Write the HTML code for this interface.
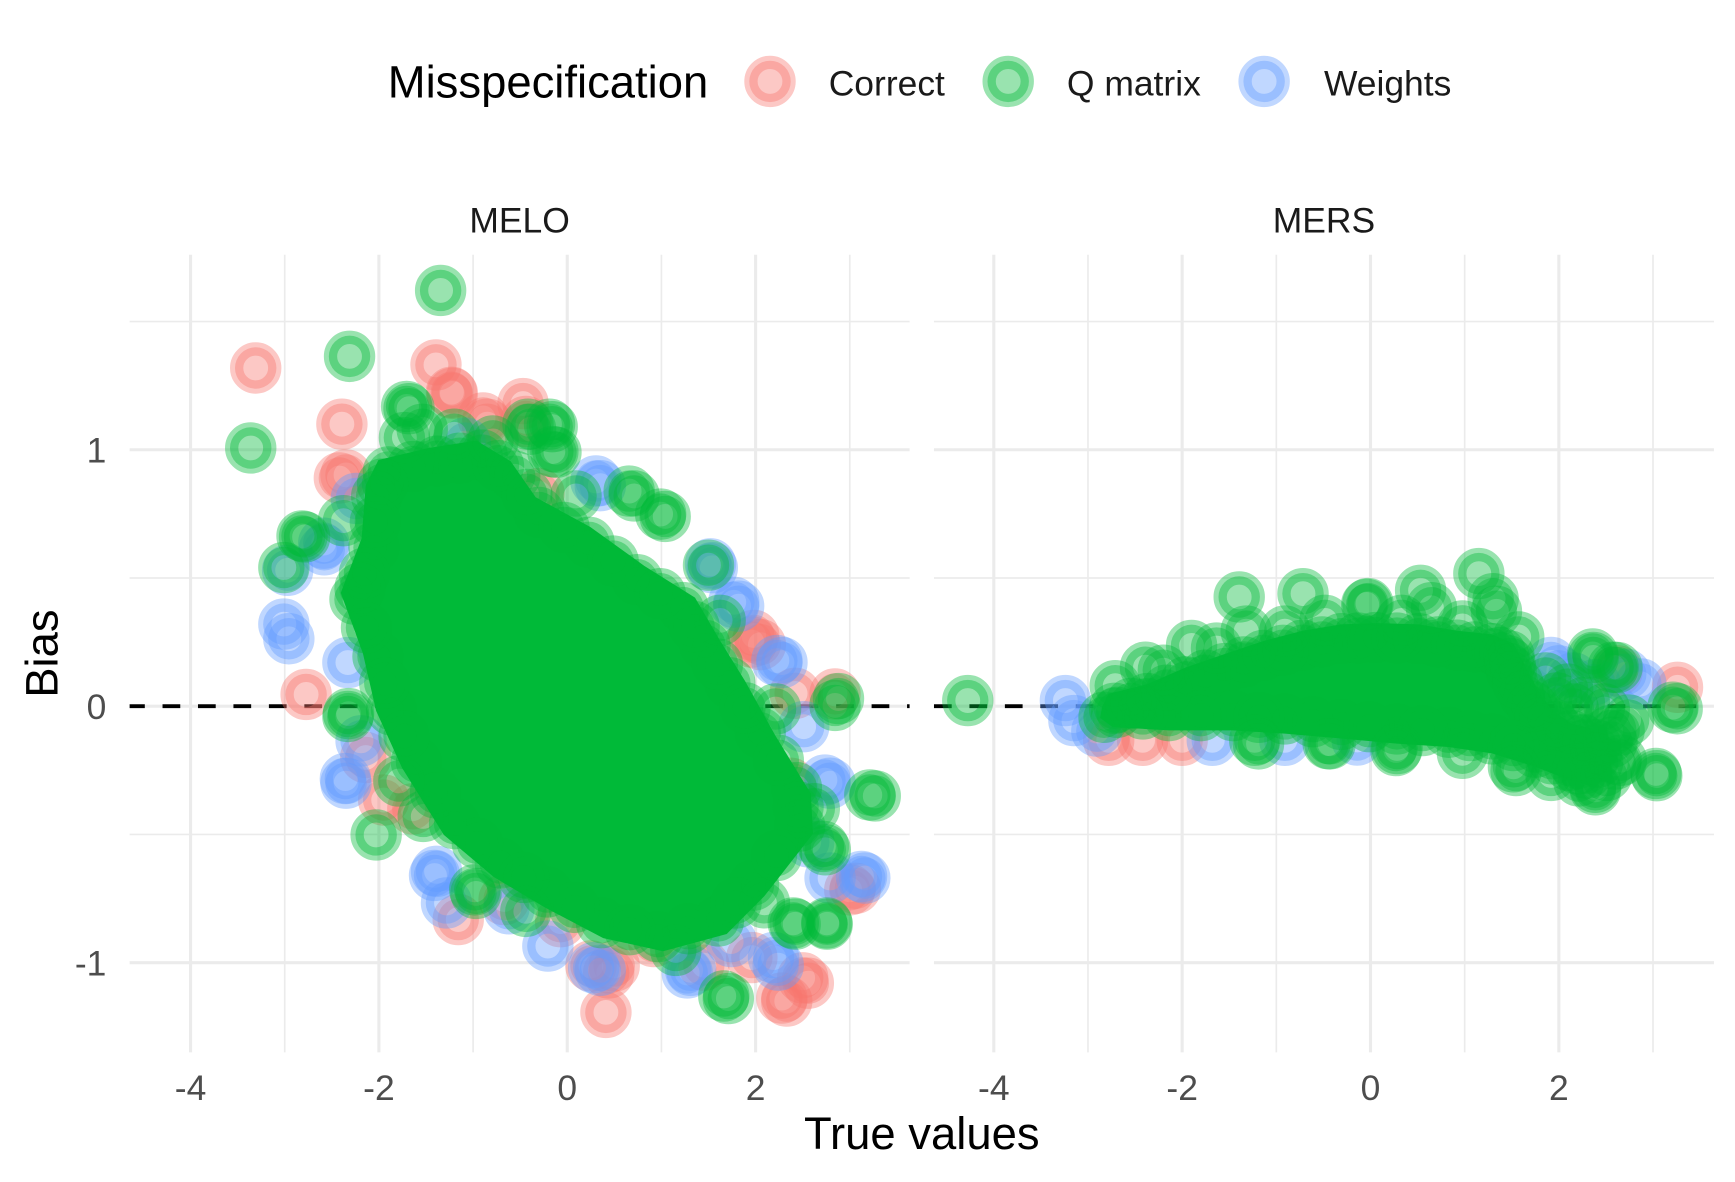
<!DOCTYPE html>
<html>
<head>
<meta charset="utf-8">
<style>
html,body{margin:0;padding:0;background:#ffffff;width:1735px;height:1182px;overflow:hidden;}
svg{display:block;}
text{font-family:"Liberation Sans",Arial,sans-serif;}
</style>
</head>
<body>
<svg xmlns="http://www.w3.org/2000/svg" width="1735" height="1182" viewBox="0 0 1566 1067" preserveAspectRatio="none">
<defs>
  <clipPath id="cl"><rect x="117" y="230" width="704" height="720"/></clipPath>
  <clipPath id="cr"><rect x="843" y="230" width="704" height="720"/></clipPath>
  <g id="pr"><circle r="18.7" fill="#F8766D" fill-opacity="0.4"/><circle r="17.2" fill="none" stroke="#F8766D" stroke-opacity="0.4" stroke-width="12"/></g>
  <g id="pg"><circle r="18.7" fill="#00BA38" fill-opacity="0.4"/><circle r="17.2" fill="none" stroke="#00BA38" stroke-opacity="0.4" stroke-width="12"/></g>
  <g id="pb"><circle r="18.7" fill="#619CFF" fill-opacity="0.4"/><circle r="17.2" fill="none" stroke="#619CFF" stroke-opacity="0.4" stroke-width="12"/></g>
</defs>
<rect x="0" y="0" width="1566" height="1067" fill="#ffffff"/>

<!-- Legend -->
<text x="350" y="88" font-size="41" fill="#000000">Misspecification</text>
<use href="#pr" x="695" y="73.5"/>
<text x="748" y="86" font-size="32" fill="#1A1A1A">Correct</text>
<use href="#pg" x="910" y="73.5"/>
<text x="963" y="86" font-size="32" fill="#1A1A1A">Q matrix</text>
<use href="#pb" x="1141" y="73.5"/>
<text x="1195" y="86" font-size="32" fill="#1A1A1A">Weights</text>

<!-- Strip labels -->
<text x="469" y="210" font-size="32" fill="#1A1A1A" text-anchor="middle">MELO</text>
<text x="1195" y="210" font-size="32" fill="#1A1A1A" text-anchor="middle">MERS</text>

<!-- Grid -->
<g stroke="#EBEBEB" fill="none">
  <g stroke-width="1.5">
    <line x1="117" x2="821" y1="290.25" y2="290.25"/>
    <line x1="117" x2="821" y1="521.75" y2="521.75"/>
    <line x1="117" x2="821" y1="753.25" y2="753.25"/>
    <line x1="257" x2="257" y1="230" y2="950"/>
    <line x1="427" x2="427" y1="230" y2="950"/>
    <line x1="597" x2="597" y1="230" y2="950"/>
    <line x1="767" x2="767" y1="230" y2="950"/>
    <line x1="843" x2="1547" y1="290.25" y2="290.25"/>
    <line x1="843" x2="1547" y1="521.75" y2="521.75"/>
    <line x1="843" x2="1547" y1="753.25" y2="753.25"/>
    <line x1="982" x2="982" y1="230" y2="950"/>
    <line x1="1152" x2="1152" y1="230" y2="950"/>
    <line x1="1322" x2="1322" y1="230" y2="950"/>
    <line x1="1492" x2="1492" y1="230" y2="950"/>
  </g>
  <g stroke-width="2.8">
    <line x1="117" x2="821" y1="406" y2="406"/>
    <line x1="117" x2="821" y1="637.5" y2="637.5"/>
    <line x1="117" x2="821" y1="869" y2="869"/>
    <line x1="172" x2="172" y1="230" y2="950"/>
    <line x1="342" x2="342" y1="230" y2="950"/>
    <line x1="512" x2="512" y1="230" y2="950"/>
    <line x1="682" x2="682" y1="230" y2="950"/>
    <line x1="843" x2="1547" y1="406" y2="406"/>
    <line x1="843" x2="1547" y1="637.5" y2="637.5"/>
    <line x1="843" x2="1547" y1="869" y2="869"/>
    <line x1="897" x2="897" y1="230" y2="950"/>
    <line x1="1067" x2="1067" y1="230" y2="950"/>
    <line x1="1237" x2="1237" y1="230" y2="950"/>
    <line x1="1407" x2="1407" y1="230" y2="950"/>
  </g>
</g>

<!-- dashed zero lines -->
<line x1="117" x2="821" y1="637.5" y2="637.5" stroke="#000000" stroke-width="3.5" stroke-dasharray="16 16" stroke-dashoffset="2.3"/>
<line x1="843" x2="1547" y1="637.5" y2="637.5" stroke="#000000" stroke-width="3.5" stroke-dasharray="16 16"/>

<!-- ===== MELO panel ===== -->
<g clip-path="url(#cl)">
  <!-- red -->
  <use href="#pr" x="230.8" y="332.2"/><use href="#pr" x="393.5" y="329.4"/><use href="#pr" x="308.6" y="382.9"/>
  <use href="#pr" x="407.5" y="354.1"/><use href="#pr" x="436.0" y="377.3"/><use href="#pr" x="312.3" y="428.7"/>
  <use href="#pr" x="306.3" y="431.5"/><use href="#pr" x="276.3" y="626.9"/><use href="#pr" x="346.3" y="722.2"/>
  <use href="#pr" x="330.1" y="683.8"/><use href="#pr" x="372.6" y="730.1"/><use href="#pr" x="413.6" y="830.1"/>
  <use href="#pr" x="506.0" y="832.0"/><use href="#pr" x="533.4" y="872.0"/><use href="#pr" x="554.4" y="872.0"/>
  <use href="#pr" x="549.4" y="878.3"/><use href="#pr" x="546.9" y="913.9"/><use href="#pr" x="635.3" y="871.3"/>
  <use href="#pr" x="678.6" y="864.4"/><use href="#pr" x="705.7" y="901.0"/><use href="#pr" x="710.1" y="903.7"/>
  <use href="#pr" x="724.5" y="882.7"/><use href="#pr" x="729.6" y="887.5"/><use href="#pr" x="767.0" y="803.3"/>
  <use href="#pr" x="772.1" y="801.9"/><use href="#pr" x="713.5" y="707.0"/><use href="#pr" x="717.7" y="625.9"/>
  <use href="#pr" x="753.7" y="626.4"/><use href="#pr" x="686.3" y="581.9"/><use href="#pr" x="680.3" y="573.6"/>
  <use href="#pr" x="678.6" y="579.6"/><use href="#pr" x="486.5" y="445.4"/><use href="#pr" x="474.6" y="380.5"/>
  <use href="#pr" x="472.1" y="364.3"/><use href="#pr" x="439.8" y="382.9"/><use href="#pr" x="408.3" y="355.1"/>
  <use href="#pr" x="590.0" y="850.0"/><use href="#pr" x="455.0" y="812.0"/>
  <!-- blue -->
  <use href="#pb" x="256.2" y="563.4"/><use href="#pb" x="260.7" y="576.6"/><use href="#pb" x="292.2" y="490.3"/>
  <use href="#pb" x="292.7" y="496.3"/><use href="#pb" x="259.6" y="514.8"/><use href="#pb" x="321.6" y="450.0"/>
  <use href="#pb" x="314.0" y="598.1"/><use href="#pb" x="325.9" y="668.8"/><use href="#pb" x="311.7" y="702.8"/>
  <use href="#pb" x="312.3" y="707.0"/><use href="#pb" x="394.0" y="786.6"/><use href="#pb" x="392.2" y="790.3"/>
  <use href="#pb" x="403.0" y="815.1"/><use href="#pb" x="459.3" y="820.4"/><use href="#pb" x="494.5" y="854.0"/>
  <use href="#pb" x="535.8" y="873.6"/><use href="#pb" x="541.8" y="875.9"/><use href="#pb" x="620.3" y="878.3"/>
  <use href="#pb" x="623.4" y="875.9"/><use href="#pb" x="698.2" y="864.4"/><use href="#pb" x="702.4" y="871.3"/>
  <use href="#pb" x="749.2" y="792.6"/><use href="#pb" x="777.6" y="791.2"/><use href="#pb" x="780.6" y="792.6"/>
  <use href="#pb" x="744.6" y="704.2"/><use href="#pb" x="749.2" y="707.0"/><use href="#pb" x="725.4" y="656.0"/>
  <use href="#pb" x="701.2" y="596.3"/><use href="#pb" x="705.8" y="598.1"/><use href="#pb" x="666.7" y="547.2"/>
  <use href="#pb" x="662.3" y="543.7"/><use href="#pb" x="642.9" y="512.5"/><use href="#pb" x="641.3" y="509.0"/>
  <use href="#pb" x="541.8" y="438.4"/><use href="#pb" x="537.9" y="434.2"/><use href="#pb" x="420.0" y="400.0"/>
  <use href="#pb" x="730.0" y="760.0"/><use href="#pb" x="660.0" y="850.0"/>

  <!-- green solid core -->
  <polygon fill="#00BA38" points="341.6,415.2 387.5,404.3 430.1,397.7 460.9,416.4 483.5,448.9 532.8,475.7 581.5,510.8 627.3,539.5 649.3,577.3 672.6,615 699.9,664.2 731.8,716.3 733.8,752.6 689.8,809.1 655.9,843.1 598.5,858.7 544.5,846.8 491.7,819.1 445.7,791.7 400.6,753.6 362.9,693.2 339.5,641.7 327.5,589.6 307.6,535.2 326.4,486 330.1,438.1"/>
  <!-- green ring -->
  <use href="#pg" x="350.6" y="426.0"/><use href="#pg" x="394.6" y="416.3"/><use href="#pg" x="435.1" y="410.8"/>
  <use href="#pg" x="464.6" y="429.9"/><use href="#pg" x="486.3" y="462.6"/><use href="#pg" x="531.6" y="489.6"/>
  <use href="#pg" x="575.1" y="523.3"/><use href="#pg" x="616.6" y="548.5"/><use href="#pg" x="636.3" y="582.6"/>
  <use href="#pg" x="658.7" y="616.4"/><use href="#pg" x="686.1" y="661.6"/><use href="#pg" x="718.8" y="711.0"/>
  <use href="#pg" x="721.7" y="745.7"/><use href="#pg" x="680.1" y="798.9"/><use href="#pg" x="648.4" y="831.3"/>
  <use href="#pg" x="593.9" y="845.5"/><use href="#pg" x="542.9" y="832.9"/><use href="#pg" x="493.8" y="805.2"/>
  <use href="#pg" x="451.5" y="779.0"/><use href="#pg" x="410.3" y="743.5"/><use href="#pg" x="375.9" y="687.9"/>
  <use href="#pg" x="353.4" y="640.8"/><use href="#pg" x="341.2" y="592.5"/><use href="#pg" x="320.4" y="540.9"/>
  <use href="#pg" x="337.6" y="494.3"/><use href="#pg" x="340.0" y="448.0"/>
  <use href="#pg" x="372.6" y="421.2"/><use href="#pg" x="414.9" y="413.6"/><use href="#pg" x="449.9" y="420.4"/>
  <use href="#pg" x="475.5" y="446.3"/><use href="#pg" x="509.0" y="476.1"/><use href="#pg" x="553.4" y="506.5"/>
  <use href="#pg" x="595.9" y="535.9"/><use href="#pg" x="626.5" y="565.6"/><use href="#pg" x="647.5" y="599.5"/>
  <use href="#pg" x="672.4" y="639.0"/><use href="#pg" x="702.5" y="686.3"/><use href="#pg" x="720.3" y="728.4"/>
  <use href="#pg" x="700.9" y="772.3"/><use href="#pg" x="664.3" y="815.1"/><use href="#pg" x="621.2" y="838.4"/>
  <use href="#pg" x="568.4" y="839.2"/><use href="#pg" x="518.4" y="819.1"/><use href="#pg" x="472.7" y="792.1"/>
  <use href="#pg" x="430.9" y="761.3"/><use href="#pg" x="393.1" y="715.7"/><use href="#pg" x="364.7" y="664.4"/>
  <use href="#pg" x="347.3" y="616.7"/><use href="#pg" x="330.8" y="566.7"/><use href="#pg" x="329.0" y="517.6"/>
  <use href="#pg" x="338.8" y="471.2"/><use href="#pg" x="345.3" y="437.0"/>
  <!-- green outliers / outer fringe -->
  <use href="#pg" x="397.7" y="262.2"/><use href="#pg" x="315.5" y="321.7"/><use href="#pg" x="226.3" y="404.4"/>
  <use href="#pg" x="367.0" y="366.9"/><use href="#pg" x="369.2" y="368.9"/><use href="#pg" x="381.1" y="387.5"/>
  <use href="#pg" x="272.6" y="483.8"/><use href="#pg" x="274.9" y="484.7"/><use href="#pg" x="256.2" y="512.3"/>
  <use href="#pg" x="325.0" y="531.0"/><use href="#pg" x="314.6" y="644.2"/><use href="#pg" x="314.0" y="646.8"/>
  <use href="#pg" x="339.5" y="753.7"/><use href="#pg" x="428.5" y="803.3"/><use href="#pg" x="429.6" y="806.5"/>
  <use href="#pg" x="474.6" y="822.7"/><use href="#pg" x="653.3" y="899.1"/><use href="#pg" x="657.4" y="901.4"/>
  <use href="#pg" x="716.0" y="833.1"/><use href="#pg" x="717.7" y="834.3"/><use href="#pg" x="746.2" y="833.1"/>
  <use href="#pg" x="746.6" y="834.3"/><use href="#pg" x="743.2" y="764.1"/><use href="#pg" x="744.9" y="767.1"/>
  <use href="#pg" x="785.1" y="717.6"/><use href="#pg" x="790.0" y="718.5"/><use href="#pg" x="753.7" y="636.8"/>
  <use href="#pg" x="756.8" y="630.6"/><use href="#pg" x="476.5" y="382.9"/><use href="#pg" x="478.9" y="387.5"/>
  <use href="#pg" x="496.0" y="382.9"/><use href="#pg" x="498.4" y="385.2"/><use href="#pg" x="499.0" y="407.6"/>
  <use href="#pg" x="501.8" y="408.3"/><use href="#pg" x="519.9" y="447.7"/><use href="#pg" x="567.9" y="443.3"/>
  <use href="#pg" x="572.4" y="447.7"/><use href="#pg" x="596.3" y="464.1"/><use href="#pg" x="600.4" y="466.2"/>
  <use href="#pg" x="639.5" y="510.2"/><use href="#pg" x="365.0" y="395.0"/><use href="#pg" x="410.0" y="392.0"/>
  <use href="#pg" x="445.0" y="398.0"/><use href="#pg" x="310.0" y="470.0"/><use href="#pg" x="360.0" y="705.0"/>
  <use href="#pg" x="382.0" y="737.0"/><use href="#pg" x="610.0" y="858.0"/><use href="#pg" x="690.0" y="815.0"/>
  <use href="#pg" x="735.0" y="730.0"/><use href="#pg" x="700.0" y="640.0"/><use href="#pg" x="650.0" y="560.0"/>
</g>

<!-- ===== MERS panel ===== -->
<g clip-path="url(#cr)">
  <!-- red -->
  <use href="#pr" x="1514.1" y="620.4"/><use href="#pr" x="1459.7" y="605.6"/><use href="#pr" x="1000.7" y="668.3"/>
  <use href="#pr" x="1031.3" y="668.3"/><use href="#pr" x="1067.0" y="668.3"/>
  <!-- blue -->
  <use href="#pb" x="961.6" y="632.4"/><use href="#pb" x="969.3" y="650.5"/><use href="#pb" x="1094.2" y="668.3"/>
  <use href="#pb" x="1159.7" y="668.3"/><use href="#pb" x="1407.0" y="605.6"/><use href="#pb" x="1481.0" y="617.4"/>
  <use href="#pb" x="1467.4" y="608.6"/><use href="#pb" x="1420.0" y="612.0"/><use href="#pb" x="990.0" y="660.0"/>
  <use href="#pb" x="1225.0" y="668.0"/><use href="#pb" x="1400.0" y="598.0"/><use href="#pb" x="1440.0" y="618.0"/>

  <!-- green core -->
  <polygon fill="#00BA38" points="994.8,637.5 1000.7,626.4 1035.6,617.6 1070.4,602.5 1105.3,590.5 1140.1,578.7 1175.8,569.4 1210.7,563.6 1241.3,562.5 1280.4,563.6 1315.2,569.4 1346.7,572.7 1366,581 1376,600 1388,623 1400,640 1418,653 1450,661 1457,677 1453,699 1438,710 1416.4,704.2 1385.8,692.2 1346.7,680.1 1307.6,674.3 1260.8,671.3 1210.7,666.7 1159.7,662.3 1112.9,659.3 1055.1,659.3 1004.1,656.3 993,648"/>
  <!-- ring -->
  <use href="#pg" x="1006.0" y="639.4"/><use href="#pg" x="1035.6" y="630.6"/><use href="#pg" x="1070.4" y="615.5"/>
  <use href="#pg" x="1105.3" y="603.5"/><use href="#pg" x="1140.1" y="591.7"/><use href="#pg" x="1175.8" y="582.4"/>
  <use href="#pg" x="1210.7" y="576.6"/><use href="#pg" x="1241.3" y="575.5"/><use href="#pg" x="1280.4" y="576.6"/>
  <use href="#pg" x="1315.2" y="582.4"/><use href="#pg" x="1346.7" y="585.7"/><use href="#pg" x="1362.0" y="592.0"/>
  <use href="#pg" x="1364.0" y="606.0"/><use href="#pg" x="1376.0" y="628.0"/><use href="#pg" x="1390.0" y="648.0"/>
  <use href="#pg" x="1418.0" y="664.0"/><use href="#pg" x="1440.0" y="672.0"/><use href="#pg" x="1442.0" y="688.0"/>
  <use href="#pg" x="1432.0" y="698.0"/><use href="#pg" x="1416.4" y="691.0"/><use href="#pg" x="1385.8" y="679.0"/>
  <use href="#pg" x="1346.7" y="667.0"/><use href="#pg" x="1307.6" y="661.0"/><use href="#pg" x="1260.8" y="658.0"/>
  <use href="#pg" x="1210.7" y="654.0"/><use href="#pg" x="1159.7" y="649.0"/><use href="#pg" x="1112.9" y="646.0"/>
  <use href="#pg" x="1055.1" y="646.0"/><use href="#pg" x="1008.0" y="643.0"/>
  <use href="#pg" x="1020.8" y="635.0"/><use href="#pg" x="1053.0" y="623.0"/><use href="#pg" x="1087.9" y="609.5"/>
  <use href="#pg" x="1122.7" y="597.6"/><use href="#pg" x="1158.0" y="587.0"/><use href="#pg" x="1193.3" y="579.5"/>
  <use href="#pg" x="1226.0" y="576.0"/><use href="#pg" x="1260.9" y="576.0"/><use href="#pg" x="1297.8" y="579.5"/>
  <use href="#pg" x="1331.0" y="584.0"/><use href="#pg" x="1354.0" y="589.0"/><use href="#pg" x="1363.0" y="599.0"/>
  <use href="#pg" x="1370.0" y="617.0"/><use href="#pg" x="1383.0" y="638.0"/><use href="#pg" x="1404.0" y="656.0"/>
  <use href="#pg" x="1429.0" y="668.0"/><use href="#pg" x="1441.0" y="680.0"/>
  <use href="#pg" x="1424.0" y="694.0"/><use href="#pg" x="1401.0" y="685.0"/><use href="#pg" x="1366.0" y="673.0"/>
  <use href="#pg" x="1327.0" y="664.0"/><use href="#pg" x="1284.0" y="659.5"/><use href="#pg" x="1235.8" y="656.0"/>
  <use href="#pg" x="1185.0" y="651.5"/><use href="#pg" x="1136.3" y="647.5"/><use href="#pg" x="1084.0" y="646.0"/>
  <use href="#pg" x="1031.5" y="644.5"/>
  <!-- right tail density -->
  <use href="#pg" x="1395.0" y="612.0"/><use href="#pg" x="1415.0" y="622.0"/><use href="#pg" x="1430.0" y="634.0"/>
  <use href="#pg" x="1448.0" y="640.0"/><use href="#pg" x="1420.0" y="640.0"/><use href="#pg" x="1405.0" y="630.0"/>
  <use href="#pg" x="1450.0" y="700.0"/><use href="#pg" x="1425.0" y="705.0"/><use href="#pg" x="1455.0" y="670.0"/>
  <!-- outliers / bumps -->
  <use href="#pg" x="873.5" y="632.4"/><use href="#pg" x="1118.5" y="538.9"/><use href="#pg" x="1176.1" y="535.9"/>
  <use href="#pg" x="1075.5" y="582.6"/><use href="#pg" x="1033.9" y="602.3"/><use href="#pg" x="1006.6" y="619.0"/>
  <use href="#pg" x="1234.7" y="544.9"/><use href="#pg" x="1233.6" y="545.6"/><use href="#pg" x="1282.2" y="532.9"/>
  <use href="#pg" x="1292.0" y="548.6"/><use href="#pg" x="1334.8" y="517.8"/><use href="#pg" x="1347.7" y="540.5"/>
  <use href="#pg" x="1350.7" y="551.8"/><use href="#pg" x="1370.8" y="575.0"/><use href="#pg" x="1124.8" y="569.7"/>
  <use href="#pg" x="1159.7" y="569.7"/><use href="#pg" x="1437.6" y="590.3"/><use href="#pg" x="1438.0" y="593.5"/>
  <use href="#pg" x="1456.0" y="602.3"/><use href="#pg" x="1459.5" y="602.5"/><use href="#pg" x="1513.8" y="639.8"/>
  <use href="#pg" x="1510.0" y="638.4"/><use href="#pg" x="1495.4" y="700.2"/><use href="#pg" x="1494.6" y="698.2"/>
  <use href="#pg" x="1439.9" y="710.7"/><use href="#pg" x="1440.0" y="713.0"/><use href="#pg" x="1458.0" y="689.6"/>
  <use href="#pg" x="1463.4" y="686.2"/><use href="#pg" x="1453.8" y="659.5"/><use href="#pg" x="1461.4" y="659.3"/>
  <use href="#pg" x="1368.4" y="695.6"/><use href="#pg" x="1366.0" y="692.2"/><use href="#pg" x="1135.9" y="671.5"/>
  <use href="#pg" x="1132.5" y="668.3"/><use href="#pg" x="1200.5" y="671.5"/><use href="#pg" x="1198.8" y="671.3"/>
  <use href="#pg" x="1260.0" y="677.5"/><use href="#pg" x="1261.0" y="675.7"/><use href="#pg" x="996.5" y="647.5"/>
  <use href="#pg" x="1196.0" y="560.0"/><use href="#pg" x="1265.0" y="560.0"/><use href="#pg" x="1320.0" y="565.0"/>
  <use href="#pg" x="1098.0" y="585.0"/><use href="#pg" x="1050.0" y="605.0"/><use href="#pg" x="1320.0" y="680.0"/>
  <use href="#pg" x="1400.0" y="700.0"/><use href="#pg" x="1470.0" y="650.0"/>
</g>

<!-- Axis tick labels -->
<g font-size="32" fill="#4D4D4D">
  <text x="96" y="417.5" text-anchor="end">1</text>
  <text x="96" y="649" text-anchor="end">0</text>
  <text x="96" y="880.5" text-anchor="end">-1</text>
  <text x="172" y="993" text-anchor="middle">-4</text>
  <text x="342" y="993" text-anchor="middle">-2</text>
  <text x="512" y="993" text-anchor="middle">0</text>
  <text x="682" y="993" text-anchor="middle">2</text>
  <text x="897" y="993" text-anchor="middle">-4</text>
  <text x="1067" y="993" text-anchor="middle">-2</text>
  <text x="1237" y="993" text-anchor="middle">0</text>
  <text x="1407" y="993" text-anchor="middle">2</text>
</g>

<!-- Axis titles -->
<text x="832" y="1037" font-size="41" fill="#000000" text-anchor="middle">True values</text>
<text x="0" y="0" font-size="41" fill="#000000" text-anchor="middle" transform="translate(52,590) rotate(-90)">Bias</text>
</svg>
</body>
</html>
